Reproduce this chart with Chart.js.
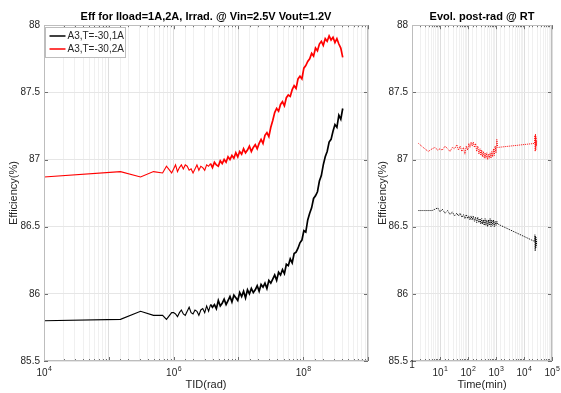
<!DOCTYPE html>
<html>
<head>
<meta charset="utf-8">
<script src="https://cdn.jsdelivr.net/npm/chart.js@4.4.1/dist/chart.umd.min.js"></script>
<style>
  html, body { margin: 0; padding: 0; background: #fff; }
  #wrap { position: relative; width: 561px; height: 393px; }
  #left { position: absolute; left: 0; top: 0; }
  #right { position: absolute; left: 366px; top: 0; }
</style>
</head>
<body>
<div id="wrap">
  <canvas id="left" width="375" height="393"></canvas>
  <canvas id="right" width="195" height="393"></canvas>
</div>
<script>
// irradiation run: log10 of TID (rad), shared by both load currents
const tidExp = [
  4.00, 5.18, 5.49, 5.69, 5.83, 5.89, 5.97,
  6.00, 6.03, 6.06, 6.09, 6.12, 6.15, 6.18, 6.21, 6.24, 6.27,
  6.30, 6.33, 6.36, 6.39, 6.42, 6.45, 6.48, 6.51, 6.54, 6.57,
  6.60, 6.63, 6.66, 6.69, 6.72, 6.75, 6.78, 6.81, 6.84, 6.87,
  6.90, 6.93, 6.96, 6.99, 7.02, 7.05, 7.08, 7.11, 7.14, 7.17,
  7.20, 7.23, 7.26, 7.29, 7.32, 7.35, 7.38, 7.41, 7.44, 7.47,
  7.50, 7.53, 7.56, 7.59, 7.62, 7.65, 7.68, 7.71, 7.74, 7.77,
  7.80, 7.83, 7.86, 7.89, 7.92, 7.95, 7.98, 8.01, 8.04, 8.07,
  8.10, 8.13, 8.16, 8.19, 8.22, 8.25, 8.28, 8.31, 8.34, 8.37,
  8.40, 8.43, 8.46, 8.49, 8.52, 8.55, 8.58, 8.61
]
const eff1A = [
  85.80, 85.81, 85.87, 85.84, 85.84, 85.81, 85.86,
  85.86, 85.85, 85.83, 85.86, 85.88, 85.85, 85.84, 85.87, 85.90, 85.86,
  85.85, 85.88, 85.87, 85.84, 85.88, 85.89, 85.86, 85.91, 85.87, 85.92,
  85.90, 85.92, 85.89, 85.95, 85.91, 85.93, 85.96, 85.92, 85.95, 85.98,
  85.94, 85.99, 85.97, 85.95, 86.01, 85.98, 86.02, 85.97, 86.03, 86.00,
  86.04, 86.01, 86.03, 86.06, 86.02, 86.07, 86.05, 86.08, 86.04, 86.10,
  86.08, 86.11, 86.14, 86.10, 86.16, 86.14, 86.18, 86.15, 86.22, 86.21,
  86.26, 86.23, 86.30, 86.31, 86.34, 86.38, 86.40, 86.47, 86.46, 86.55,
  86.60, 86.64, 86.71, 86.73, 86.76, 86.84, 86.88, 86.96, 87.02, 87.06,
  87.13, 87.15, 87.21, 87.26, 87.24, 87.33, 87.30, 87.38
]
const eff2A = [
  86.87, 86.91, 86.87, 86.91, 86.90, 86.95, 86.90,
  86.93, 86.96, 86.91, 86.94, 86.96, 86.93, 86.96, 86.95, 86.92, 86.93,
  86.90, 86.93, 86.96, 86.92, 86.95, 86.94, 86.92, 86.96, 86.95, 86.97,
  86.94, 86.98, 86.96, 86.95, 86.99, 86.97, 87.00, 86.98, 87.02, 87.00,
  87.03, 87.01, 87.05, 87.02, 87.06, 87.04, 87.08, 87.05, 87.07, 87.10,
  87.06, 87.09, 87.11, 87.08, 87.12, 87.15, 87.12, 87.18, 87.20, 87.17,
  87.24, 87.29, 87.35, 87.38, 87.36, 87.41, 87.43, 87.40, 87.46, 87.48,
  87.47, 87.52, 87.55, 87.53, 87.60, 87.62, 87.60, 87.68, 87.70, 87.73,
  87.75, 87.79, 87.77, 87.83, 87.81, 87.86, 87.88, 87.85, 87.90, 87.88,
  87.92, 87.89, 87.91, 87.87, 87.90, 87.86, 87.83, 87.76
]

// post-irradiation annealing at room temperature: log10 of time (min)
const timeExp = [
  0.23, 0.40, 0.58, 0.72, 0.82, 0.92, 1.00, 1.08, 1.18, 1.27,
  1.36, 1.44, 1.52, 1.60, 1.66, 1.72, 1.78, 1.84, 1.89, 1.94,
  1.99, 2.03, 2.07, 2.11, 2.15, 2.19, 2.23, 2.27, 2.31, 2.35,
  2.39, 2.43, 2.46, 2.49, 2.52, 2.55, 2.58, 2.61, 2.64, 2.67,
  2.70, 2.73, 2.76, 2.79, 2.82, 2.85, 2.88, 2.91, 2.94, 2.97,
  3.00, 3.03, 3.06,
  4.38, 4.39, 4.40, 4.41, 4.42, 4.43, 4.44, 4.45
]
const post1A = [
  86.62, 86.62, 86.62, 86.62, 86.63, 86.64, 86.61, 86.63, 86.60, 86.62,
  86.59, 86.61, 86.58, 86.60, 86.58, 86.60, 86.57, 86.59, 86.56, 86.59,
  86.56, 86.58, 86.55, 86.58, 86.55, 86.58, 86.54, 86.57, 86.53, 86.57,
  86.53, 86.56, 86.52, 86.56, 86.52, 86.55, 86.51, 86.56, 86.51, 86.55,
  86.50, 86.55, 86.51, 86.56, 86.50, 86.55, 86.51, 86.55, 86.50, 86.54,
  86.51, 86.54, 86.52,
  86.39, 86.44, 86.32, 86.43, 86.34, 86.42, 86.36, 86.40
]
const post2A = [
  87.12, 87.09, 87.06, 87.08, 87.09, 87.07, 87.08, 87.07, 87.10, 87.08,
  87.06, 87.09, 87.08, 87.11, 87.07, 87.10, 87.06, 87.09, 87.04, 87.10,
  87.07, 87.12, 87.09, 87.13, 87.10, 87.13, 87.09, 87.12, 87.06, 87.10,
  87.04, 87.08, 87.03, 87.07, 87.02, 87.06, 87.01, 87.05, 87.01, 87.05,
  87.00, 87.04, 87.01, 87.05, 87.01, 87.06, 87.02, 87.08, 87.03, 87.10,
  87.05, 87.15, 87.09,
  87.12, 87.18, 87.06, 87.19, 87.07, 87.17, 87.10, 87.14
]

const label1A = 'A3,T=-30,1A'
const label2A = 'A3,T=-30,2A'
const tidLabelled = [4, 6, 8]
const timeLabelled = [0, 1, 2, 3, 4, 5]

const FONT = '"Liberation Sans", Arial, Helvetica, sans-serif'
Chart.defaults.font.family = FONT
Chart.defaults.color = '#262626'

const decade = v => {
  const e = Math.log10(v)
  return Math.abs(e - Math.round(e)) < 1e-6 ? Math.round(e) : null
}

const toPoints = (exps, vals) => vals.map((v, i) => ({ x: 10 ** exps[i], y: v }))

// full box round the plot plus small inward ticks, like the usual MATLAB axes
const axesBox = {
  id: 'axesBox',
  afterDatasetsDraw(chart) {
    const { ctx, chartArea: a, scales: { x, y } } = chart
    ctx.save()
    ctx.strokeStyle = '#6e6e6e'
    ctx.lineWidth = 1
    ctx.beginPath()
    x.ticks.forEach(t => {
      const px = Math.round(x.getPixelForValue(t.value)) + 0.5
      const len = decade(t.value) !== null ? 4 : 2
      ctx.moveTo(px, a.bottom); ctx.lineTo(px, a.bottom - len)
      ctx.moveTo(px, a.top); ctx.lineTo(px, a.top + len)
    })
    y.ticks.forEach(t => {
      const py = Math.round(y.getPixelForValue(t.value)) + 0.5
      ctx.moveTo(a.left, py); ctx.lineTo(a.left + 4, py)
      ctx.moveTo(a.right, py); ctx.lineTo(a.right - 4, py)
    })
    ctx.stroke()
    ctx.strokeStyle = '#bdbdbd'
    ctx.strokeRect(Math.round(a.left) + 0.5, Math.round(a.top) + 0.5,
      Math.round(a.width) - 1, Math.round(a.height) - 1)
    ctx.restore()
  }
}

// decade labels written as 10 with a raised exponent
const decadeLabels = {
  id: 'decadeLabels',
  afterDraw(chart, args, opts) {
    const { ctx, chartArea: a, scales: { x } } = chart
    ctx.save()
    ctx.fillStyle = '#262626'
    ctx.textBaseline = 'alphabetic'
    x.ticks.forEach(t => {
      const e = decade(t.value)
      if (e === null || !opts.labelled.includes(e)) return
      const px = x.getPixelForValue(t.value)
      if (e === 0) {
        ctx.font = '10px ' + FONT
        ctx.textAlign = 'center'
        ctx.fillText('1', px, a.bottom + 7)
        return
      }
      ctx.font = '10px ' + FONT
      const wb = ctx.measureText('10').width
      ctx.font = '7px ' + FONT
      const we = ctx.measureText(String(e)).width
      const x0 = px - (wb + we) / 2
      ctx.textAlign = 'left'
      ctx.font = '10px ' + FONT
      ctx.fillText('10', x0, a.bottom + 15)
      ctx.font = '7px ' + FONT
      ctx.fillText(String(e), x0 + wb + 0.5, a.bottom + 10)
    })
    ctx.restore()
  }
}

// legend box in the upper left corner of the plot
const cornerLegend = {
  id: 'cornerLegend',
  afterDraw(chart) {
    const { ctx, chartArea: a } = chart
    const bx = Math.round(a.left) + 1.5, by = Math.round(a.top) + 2.5
    ctx.save()
    ctx.fillStyle = '#fff'
    ctx.strokeStyle = '#bdbdbd'
    ctx.lineWidth = 1
    ctx.fillRect(bx, by, 80, 30)
    ctx.strokeRect(bx, by, 80, 30)
    ctx.font = '10px ' + FONT
    ctx.textBaseline = 'middle'
    chart.data.datasets.forEach((ds, i) => {
      const ly = by + 8.5 + i * 13
      ctx.strokeStyle = ds.borderColor
      ctx.lineWidth = 1.5
      ctx.beginPath()
      ctx.moveTo(bx + 4, ly); ctx.lineTo(bx + 20, ly)
      ctx.stroke()
      ctx.fillStyle = '#262626'
      ctx.fillText(ds.label, bx + 22, ly + 0.5)
    })
    ctx.restore()
  }
}

function logAxis(min, max, title) {
  return {
    type: 'logarithmic',
    min, max,
    afterFit: s => { s.height = 32 },
    border: { display: false },
    grid: {
      drawTicks: false,
      color: c => decade(c.tick.value) !== null ? '#dedede' : '#f0f0f0'
    },
    ticks: { display: false, autoSkip: false },
    title: { display: true, text: title, font: { size: 11 }, padding: { top: 0, bottom: 1 } }
  }
}

function effAxis(width, titlePad) {
  return {
    min: 85.5, max: 88,
    afterFit: s => { s.width = width },
    border: { display: false },
    grid: { drawTicks: false, color: '#e6e6e6' },
    ticks: { stepSize: 0.5, padding: 4, font: { size: 10 }, callback: v => String(+v.toFixed(1)) },
    title: { display: true, text: 'Efficiency(%)', font: { size: 11 }, padding: { top: titlePad, bottom: 0 } }
  }
}

function baseOptions(titleText, right, labelled) {
  return {
    responsive: false,
    animation: false,
    events: [],
    layout: { padding: { left: 0, right, top: 0, bottom: 0 } },
    elements: { point: { radius: 0 }, line: { tension: 0 } },
    plugins: {
      legend: { display: false },
      tooltip: { enabled: false },
      decadeLabels: { labelled },
      title: {
        display: true,
        text: titleText,
        fullSize: false,
        color: '#000',
        font: { size: 11, weight: 'bold' },
        padding: { top: 10, bottom: 2 }
      }
    }
  }
}

// the noisy part of the sweep reads as a band, so it gets a heavier stroke
const bandWidth = { borderWidth: c => c.p0.parsed.x > 10 ** 6.55 ? 1.7 : 1.1 }

const leftOpts = baseOptions('Eff for Iload=1A,2A, Irrad. @ Vin=2.5V Vout=1.2V', 7, tidLabelled)
leftOpts.scales = { x: logAxis(1e4, 1e9, 'TID(rad)'), y: effAxis(44, 7) }

new Chart(document.getElementById('left'), {
  type: 'line',
  data: {
    datasets: [
      { label: label1A, data: toPoints(tidExp, eff1A), borderColor: '#000', borderWidth: 1.1, segment: bandWidth },
      { label: label2A, data: toPoints(tidExp, eff2A), borderColor: '#ff0000', borderWidth: 1.1, segment: bandWidth }
    ]
  },
  options: leftOpts,
  plugins: [axesBox, decadeLabels, cornerLegend]
})

const rightOpts = baseOptions('Evol. post-rad @ RT', 9, timeLabelled)
rightOpts.scales = { x: logAxis(1, 1e5, 'Time(min)'), y: effAxis(46, 10) }

new Chart(document.getElementById('right'), {
  type: 'line',
  data: {
    datasets: [
      { label: label1A, data: toPoints(timeExp, post1A), borderColor: '#000', borderWidth: 1, borderDash: [1, 1] },
      { label: label2A, data: toPoints(timeExp, post2A), borderColor: '#ff0000', borderWidth: 1, borderDash: [1, 1] }
    ]
  },
  options: rightOpts,
  plugins: [axesBox, decadeLabels]
})
</script>
</body>
</html>
